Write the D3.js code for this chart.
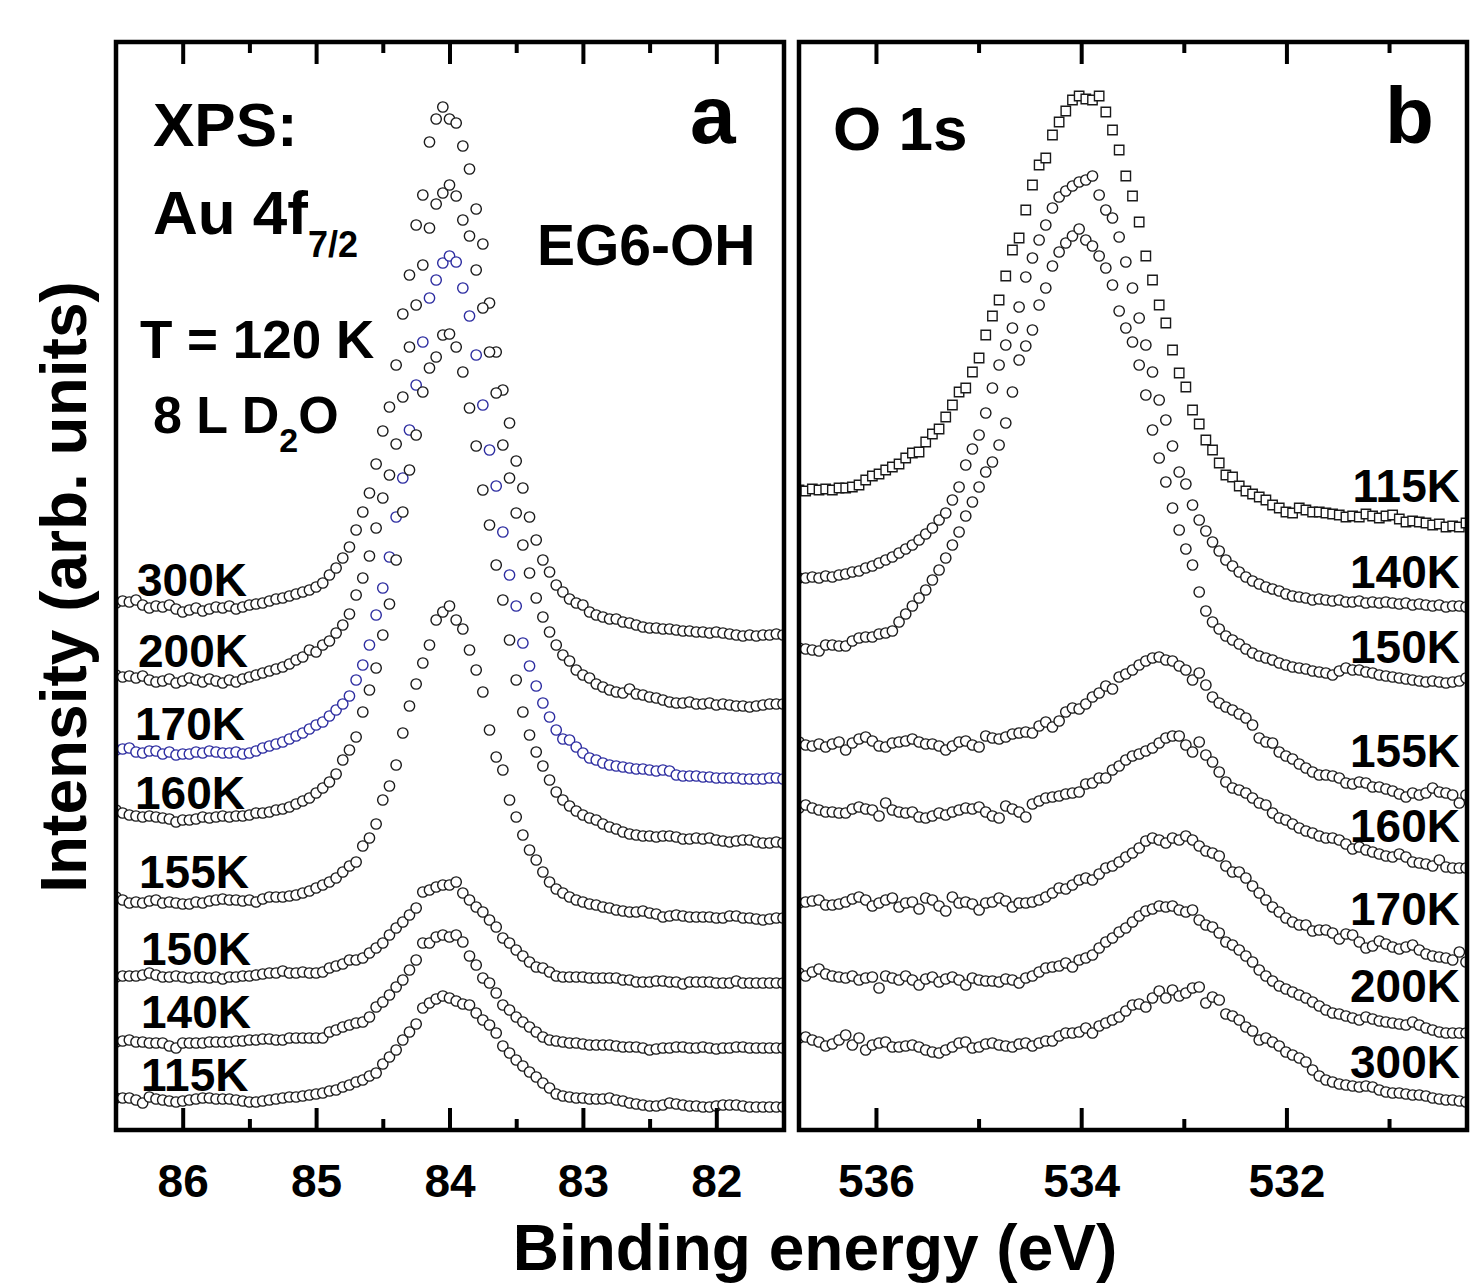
<!DOCTYPE html>
<html>
<head>
<meta charset="utf-8">
<script src="https://cdn.jsdelivr.net/npm/d3@7"></script>
<style>
  body { margin: 0; background: #fff; }
  svg { display: block; font-family: 'Liberation Sans', Arial, Helvetica, sans-serif; font-weight: bold; }
</style>
</head>
<body>
<svg id="area" width="1476" height="1285"></svg>
<script>
// energy grids (binding energy, eV) - spectra were recorded in equal steps
const au4fEnergy = d3.range(101).map((i) => +(86.5 - i * 0.05).toFixed(3));
const o1sEnergy = d3.range(101).map((i) => +(536.75 - i * 0.065).toFixed(3));

// Au 4f7/2 intensities (arb. units, stacked)
const au300K = [527,529,528,530,525,522,524,523,525,521,
  518,520,522,519,521,523,522,524,521,523,
  525,526,527,529,531,532,534,536,538,540,
  543,547,555,562,572,583,600,618,637,666,
  699,723,765,816,855,905,935,988,1011,1023,
  1011,1007,984,961,921,886,827,778,740,707,
  669,642,613,590,570,558,545,538,531,527,
  525,518,515,513,511,511,508,507,505,503,
  502,502,501,501,500,499,499,498,498,497,
  498,497,496,495,494,495,494,495,495,496,
  495];
const au200K = [455,453,454,452,454,450,448,449,451,447,
  449,452,450,448,451,449,447,450,448,451,
  453,455,457,459,461,463,466,470,473,480,
  478,485,489,497,505,516,535,552,574,602,
  632,655,686,733,783,825,865,902,926,937,
  945,934,910,894,860,822,778,737,685,652,
  617,585,557,532,513,498,485,475,469,460,
  455,452,446,443,440,438,437,441,436,435,
  433,432,430,428,427,427,428,426,426,427,
  425,426,425,424,424,423,424,425,426,426,
  426];
const au170K = [380,381,382,378,377,379,379,376,378,375,
  376,376,378,377,379,378,377,377,378,376,
  377,379,382,384,386,388,391,394,397,401,
  405,408,414,420,426,434,450,465,485,515,
  542,573,613,652,700,745,788,832,850,867,
  874,868,842,814,775,725,680,644,598,555,
  524,487,464,444,427,413,400,391,390,383,
  377,372,370,367,365,364,363,362,361,361,
  360,359,360,359,355,354,354,354,353,353,
  352,352,352,352,351,351,351,351,352,352,
  351];
const au160K = [320,317,315,314,313,314,313,312,311,308,
  310,310,311,313,312,313,314,313,314,314,
  315,317,317,318,320,321,323,326,329,332,
  337,342,348,356,370,380,393,418,440,462,
  495,526,570,618,660,695,738,762,773,795,
  796,783,758,722,684,640,605,565,530,490,
  450,418,395,378,364,350,338,330,324,319,
  315,312,310,306,303,301,298,296,295,294,
  294,293,294,294,293,291,291,292,291,292,
  290,289,288,289,290,290,288,287,287,288,
  287];
const au155K = [233,230,227,228,227,229,230,227,228,227,
  226,226,228,227,229,230,231,230,230,229,
  230,228,231,233,233,233,234,235,237,239,
  242,245,248,252,258,264,268,284,292,306,
  330,344,365,397,424,446,467,485,510,518,
  524,510,501,480,460,438,400,373,360,330,
  313,295,280,270,258,248,241,237,233,230,
  228,226,225,223,222,220,219,218,218,219,
  217,216,213,214,215,214,213,213,213,213,
  212,212,214,214,212,212,211,210,211,212,
  212];
const au150K = [153,154,154,154,155,157,155,153,153,154,
  153,152,153,153,152,153,151,153,153,154,
  154,155,156,157,157,159,157,157,158,157,
  157,158,162,164,166,170,170,172,177,182,
  187,195,202,208,215,222,238,240,243,245,
  245,248,237,230,223,218,210,203,192,187,
  180,174,168,163,162,158,154,153,153,153,
  153,152,152,152,152,152,150,150,148,148,
  148,149,149,148,148,146,148,148,148,148,
  147,147,147,149,147,147,147,147,147,147,
  147];
const au140K = [88,89,90,88,88,87,87,87,84,82,
  87,87,87,87,88,88,88,88,89,89,
  90,90,91,91,90,90,92,92,92,92,
  92,92,98,100,103,105,107,108,113,123,
  128,135,143,150,160,170,187,187,193,195,
  193,195,188,174,165,152,147,137,125,120,
  113,108,103,98,93,90,89,88,87,87,
  86,85,85,85,85,84,83,83,83,82,
  80,81,82,82,83,83,82,82,83,82,
  81,82,82,83,83,82,82,82,82,82,
  82];
const au115K = [32,32,32,30,27,33,31,30,29,28,
  29,30,31,32,32,31,31,31,30,29,
  28,28,29,30,31,32,33,33,34,35,
  36,37,39,40,43,45,48,50,54,57,
  66,73,80,90,98,106,122,127,131,134,
  132,129,126,125,117,110,105,97,84,77,
  70,64,58,53,47,42,36,34,33,32,
  32,31,31,31,32,30,29,27,26,25,
  24,24,25,27,26,25,24,24,23,23,
  24,25,25,25,24,23,23,23,23,23,
  23];

// O 1s intensities (arb. units, stacked)
const o115K = [640,639,641,640,641,640,642,642,643,645,
  650,654,656,660,663,666,672,677,678,688,
  696,701,713,725,738,742,758,772,795,814,
  830,854,880,892,920,945,965,972,995,1008,
  1019,1030,1034,1031,1030,1034,1018,1000,980,954,
  934,908,874,850,825,807,780,757,743,720,
  706,690,680,667,655,653,644,639,636,633,
  630,625,622,618,617,622,620,618,618,617,
  616,615,613,614,613,616,614,612,614,615,
  611,608,609,608,607,605,606,603,604,603,
  607];
const o140K = [552,552,553,552,554,553,555,556,558,559,
  562,564,567,570,573,577,581,585,590,596,
  602,610,617,630,643,665,681,695,717,742,
  765,785,802,823,853,872,890,905,922,933,
  939,944,948,950,954,935,920,912,893,868,
  842,812,785,758,730,710,684,658,646,625,
  610,599,588,579,570,564,558,553,549,546,
  543,541,539,536,534,533,532,530,531,530,
  529,530,528,528,529,527,528,527,528,527,
  526,527,525,526,525,524,525,523,524,524,
  523];
const o150K = [482,481,480,479,485,485,484,484,489,492,
  493,493,496,497,499,508,516,524,532,540,
  550,560,572,585,598,614,628,643,658,668,
  685,707,738,770,784,800,825,842,864,878,
  887,894,901,890,884,874,862,845,819,802,
  788,765,735,700,672,648,622,600,581,565,
  538,519,508,501,494,490,486,481,477,474,
  472,470,467,465,463,462,461,459,458,457,
  455,459,462,460,460,458,457,455,454,453,
  452,451,450,449,448,449,448,447,448,449,
  452];
const o155K = [388,385,384,386,383,386,388,380,387,391,
  393,389,384,383,387,388,389,391,388,386,
  386,384,380,384,388,389,385,383,394,392,
  391,393,396,397,398,397,404,408,403,409,
  418,422,421,426,433,437,444,441,453,456,
  460,465,469,472,473,470,469,464,460,450,
  457,445,433,427,423,420,416,412,405,392,
  388,387,378,374,371,366,362,358,355,355,
  354,352,347,346,348,347,343,343,341,339,
  336,333,337,335,337,342,338,337,335,327,
  335];
const o160K = [322,325,322,320,318,318,317,317,321,323,
  321,320,314,327,320,318,317,318,313,312,
  314,317,315,318,320,322,321,323,318,314,
  312,324,321,318,313,326,329,332,333,334,
  336,337,338,346,347,352,352,360,364,370,
  374,376,379,382,387,392,394,394,385,378,
  388,375,368,358,348,342,340,337,332,327,
  325,317,312,310,306,302,299,297,294,292,
  292,290,286,281,283,280,278,276,274,273,
  276,273,268,267,266,264,270,263,262,262,
  262];
const o170K = [227,228,229,230,225,225,226,228,231,233,
  230,224,227,230,232,223,227,228,221,232,
  230,224,219,233,227,228,226,220,227,228,
  232,229,223,227,227,228,230,233,237,242,
  241,245,250,252,250,256,262,264,268,273,
  277,282,289,292,290,287,292,290,294,290,
  284,279,277,274,264,258,258,252,244,237,
  230,223,218,212,208,205,205,199,200,200,
  197,191,196,195,188,182,184,189,186,183,
  181,183,185,180,176,174,173,172,170,178,
  168];
const o200K = [157,154,158,161,156,154,153,152,154,150,
  152,153,142,154,152,150,154,150,145,151,
  153,148,151,153,150,145,152,150,149,149,
  148,151,150,147,152,154,158,162,163,164,
  167,163,170,172,175,182,188,192,198,202,
  208,214,219,221,224,223,224,220,218,220,
  210,205,203,197,188,185,180,174,168,160,
  154,149,144,141,138,135,132,128,124,120,
  117,116,114,112,110,113,111,109,108,107,
  106,105,108,105,102,100,98,97,97,97,
  97];
const o300K = [92,93,90,88,84,86,90,95,85,92,
  80,85,87,88,83,83,84,85,83,80,
  78,77,80,83,87,88,82,83,86,87,
  85,84,83,86,87,84,87,89,89,94,
  97,97,98,102,97,104,107,110,113,119,
  125,126,123,132,139,132,140,134,137,142,
  143,127,133,130,116,114,110,103,99,90,
  92,88,84,78,75,72,68,60,54,50,
  48,46,45,44,43,44,43,40,38,37,
  37,36,35,35,34,32,31,30,30,29,
  28];

const auTicks = [86, 85, 84, 83, 82];
const auMinor = [85.5, 84.5, 83.5, 82.5];
const o1sTicks = [536, 534, 532];
const o1sMinor = [535, 533, 531];

const ink = '#1a1a1a';
const blue = '#2c2ca0';

const auSeries = [
  { label: '300K', values: au300K, color: ink },
  { label: '200K', values: au200K, color: ink },
  { label: '170K', values: au170K, color: blue },
  { label: '160K', values: au160K, color: ink },
  { label: '155K', values: au155K, color: ink },
  { label: '150K', values: au150K, color: ink },
  { label: '140K', values: au140K, color: ink },
  { label: '115K', values: au115K, color: ink },
];
const o1sSeries = [
  { label: '115K', values: o115K, color: ink, shape: 'square' },
  { label: '140K', values: o140K, color: ink },
  { label: '150K', values: o150K, color: ink },
  { label: '155K', values: o155K, color: ink },
  { label: '160K', values: o160K, color: ink },
  { label: '170K', values: o170K, color: ink },
  { label: '200K', values: o200K, color: ink },
  { label: '300K', values: o300K, color: ink },
];

const svg = d3.select('#area');
const plotTop = 42;
const plotBottom = 1130;
const y = d3.scaleLinear().domain([0, 1088]).range([plotBottom, plotTop]);

const panels = [
  {
    x: d3.scaleLinear().domain([86.5, 81.5]).range([116, 783]),
    energy: au4fEnergy, series: auSeries, major: auTicks, minor: auMinor,
  },
  {
    x: d3.scaleLinear().domain([536.75, 530.25]).range([799, 1466]),
    energy: o1sEnergy, series: o1sSeries, major: o1sTicks, minor: o1sMinor,
  },
];

const circle = d3.symbol().type(d3.symbolCircle).size(84)();
const square = d3.symbol().type(d3.symbolSquare).size(88)();

const styleAxis = (g) => {
  g.select('.domain').remove();
  g.selectAll('.tick line').attr('stroke', '#000').attr('stroke-width', 4);
  g.selectAll('.tick text')
    .attr('fill', '#000')
    .style('font-size', '46px')
    .style('font-family', "'Liberation Sans', Arial, sans-serif")
    .style('font-weight', 'bold');
};

panels.forEach((p, k) => {
  const [x0, x1] = p.x.range();

  svg.append('clipPath').attr('id', `clip${k}`)
    .append('rect')
    .attr('x', x0)
    .attr('y', plotTop)
    .attr('width', x1 - x0)
    .attr('height', plotBottom - plotTop);

  const plot = svg.append('g').attr('clip-path', `url(#clip${k})`);

  p.series.forEach((s) => {
    plot.append('g')
      .selectAll('path')
      .data(s.values.map((v, i) => [p.energy[i], v]))
      .join('path')
      .attr('d', s.shape === 'square' ? square : circle)
      .attr('transform', (d) => `translate(${p.x(d[0])},${y(d[1])})`)
      .attr('fill', '#fff')
      .attr('stroke', s.color)
      .attr('stroke-width', 1.4);
  });

  svg.append('g')
    .attr('transform', `translate(0,${plotBottom})`)
    .call(d3.axisBottom(p.x).tickValues(p.major).tickSize(-22).tickPadding(34).tickFormat(d3.format('d')))
    .call(styleAxis);
  svg.append('g')
    .attr('transform', `translate(0,${plotBottom})`)
    .call(d3.axisBottom(p.x).tickValues(p.minor).tickSize(-11).tickFormat(''))
    .call(styleAxis);
  svg.append('g')
    .attr('transform', `translate(0,${plotTop})`)
    .call(d3.axisTop(p.x).tickValues(p.major).tickSize(-22).tickFormat(''))
    .call(styleAxis);
  svg.append('g')
    .attr('transform', `translate(0,${plotTop})`)
    .call(d3.axisTop(p.x).tickValues(p.minor).tickSize(-11).tickFormat(''))
    .call(styleAxis);

  svg.append('rect')
    .attr('x', x0)
    .attr('y', plotTop)
    .attr('width', x1 - x0 + 1)
    .attr('height', plotBottom - plotTop)
    .attr('fill', 'none')
    .attr('stroke', '#000')
    .attr('stroke-width', 4.5);
});

// text with optional sub-scripted pieces: parts = [[string, subscript?], ...]
function note(x, yPos, size, parts, anchor = 'start', sub = { size: 36, dy: 23 }) {
  const t = svg.append('text')
    .attr('x', x)
    .attr('y', yPos)
    .attr('font-size', size)
    .attr('text-anchor', anchor)
    .attr('fill', '#000');
  let shift = 0;
  parts.forEach(([str, isSub]) => {
    const target = isSub ? sub.dy : 0;
    t.append('tspan')
      .attr('dy', target - shift)
      .attr('font-size', isSub ? sub.size : size)
      .text(str);
    shift = target;
  });
}

note(153, 146, 62, [['XPS:']]);
note(153, 234, 62, [['Au 4f'], ['7/2', true]]);
note(140, 358, 53, [['T = 120 K']]);
note(153, 433, 52, [['8 L D'], ['2', true], ['O']], 'start', { size: 34, dy: 19 });
note(690, 143, 82, [['a']]);
note(537, 265, 57, [['EG6-OH']]);
note(833, 150, 62, [['O 1s']]);
note(1385, 143, 80, [['b']]);

// temperature labels
const auLabelPos = [[137, 596], [138, 667], [135, 740], [135, 809], [139, 888], [141, 965], [141, 1028], [141, 1091]];
auSeries.forEach((s, i) => note(auLabelPos[i][0], auLabelPos[i][1], 46, [[s.label]]));
const o1sLabelY = [502, 588, 663, 767, 842, 925, 1002, 1078];
o1sSeries.forEach((s, i) => note(1460, o1sLabelY[i], 46, [[s.label]], 'end'));

// axis titles
svg.append('text')
  .attr('x', 815)
  .attr('y', 1270)
  .attr('text-anchor', 'middle')
  .attr('font-size', 64)
  .text('Binding energy (eV)');

svg.append('text')
  .attr('transform', 'translate(86,587) rotate(-90)')
  .attr('text-anchor', 'middle')
  .attr('font-size', 64)
  .text('Intensity (arb. units)');
</script>
</body>
</html>
